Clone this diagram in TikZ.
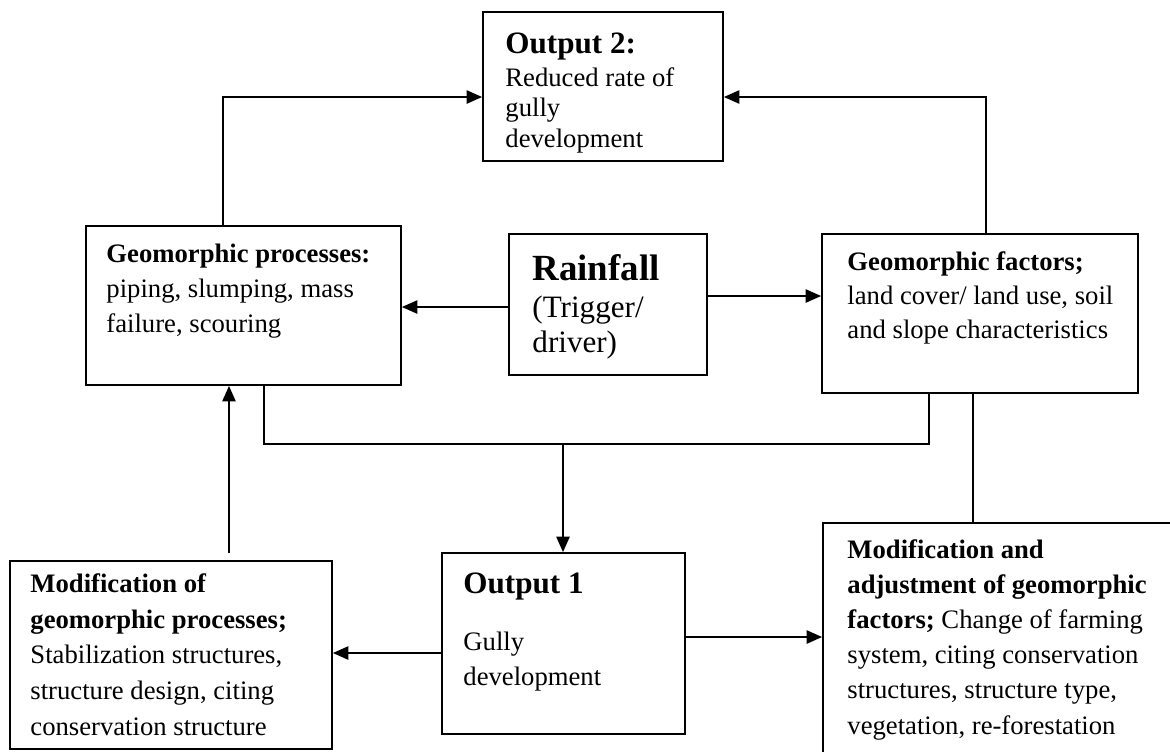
\documentclass[tikz,border=0pt]{standalone}
\usepackage{fontspec}
\setmainfont{Liberation Serif}
\usetikzlibrary{arrows.meta,fit}

\tikzset{
  box/.style={draw, line width=0.8pt, inner sep=0pt},
  txt/.style={anchor=base west, inner sep=0pt, align=left,
    font=\fontsize{12}{15.75}\selectfont},
  arr/.style={line width=0.8pt, -{Triangle[length=7pt,width=6pt]}},
  link/.style={line width=0.8pt}
}

\begin{document}
\begin{tikzpicture}[x=0.45pt, y=-0.45pt]
  \useasboundingbox (0,0) rectangle (1170,751);
  \clip (0,0) rectangle (1170,751);

  % krabice
  \node[box, fit={(483,12) (723,161)}] (out2) {};
  \node[box, fit={(86,226) (401,385)}] (proc) {};
  \node[box, fit={(509,234) (707,375)}] (rain) {};
  \node[box, fit={(822,234) (1138,393)}] (fact) {};
  \node[box, fit={(10,561) (332,749)}] (modp) {};
  \node[box, fit={(442,553) (685,734)}] (out1) {};
  \node[box, fit={(823,523) (1190,770)}] (moda) {};

  % texty (base = posledni radek)
  \node[txt, font=\fontsize{14}{16}\selectfont\bfseries] (out2h) at (505,53) {Output 2:};
  \node[txt, font=\fontsize{12}{13.7}\selectfont] (out2t) at (505,147)
    {Reduced rate of\\gully\\development};
  \node[txt] (proct) at (106,332)
    {\textbf{Geomorphic processes:}\\piping, slumping, mass\\failure, scouring};
  \node[txt, font=\fontsize{16.6}{18}\selectfont\bfseries] (rainh) at (532,280) {Rainfall};
  \node[txt, font=\fontsize{14}{15.75}\selectfont] (raint) at (532,352)
    {(Trigger/\\driver)};
  \node[txt, font=\fontsize{12}{15.3}\selectfont] (factt) at (847,338)
    {\textbf{Geomorphic factors;}\\land cover/ land use, soil\\and slope characteristics};
  \node[txt, font=\fontsize{12}{16}\selectfont] (modpt) at (30,735)
    {\textbf{Modification of}\\\textbf{geomorphic processes;}\\Stabilization structures,\\structure design, citing\\conservation structure};
  \node[txt, font=\fontsize{14}{16}\selectfont\bfseries] (out1h) at (463,593) {Output 1};
  \node[txt] (out1t) at (463,685) {Gully\\development};
  \node[txt, font=\fontsize{12}{15.8}\selectfont] (modat) at (847,734)
    {\textbf{Modification and}\\\textbf{adjustment of geomorphic}\\\textbf{factors;} Change of farming\\system, citing conservation\\structures, structure type,\\vegetation, re-forestation};

  % sipky nahoru k vystupu 2
  \draw[arr] (223,0 |- proc.north) |- (out2.west |- 0,97);
  \draw[arr] (986,0 |- fact.north) |- (out2.east |- 0,97);

  % od destu
  \draw[arr] (rain.west |- 0,307) -- (proc.east |- 0,307);
  \draw[arr] (rain.east |- 0,296) -- (fact.west |- 0,296);

  % spojeni dolu k vystupu 1
  \coordinate (j1) at (563,444);
  \draw[link] (264,0 |- proc.south) |- (j1) -| (929,0 |- fact.south);
  \draw[arr] (j1) -- (j1 |- out1.north);

  % zpetne vazby
  \draw[arr] (229,553) -- (229,0 |- proc.south);
  \draw[arr] (out1.west |- 0,653) -- (modp.east |- 0,653);
  \draw[arr] (out1.east |- 0,637) -- (moda.west |- 0,637);
  \draw[link] (973,0 |- fact.south) -- (973,0 |- moda.north);
\end{tikzpicture}
\end{document}
